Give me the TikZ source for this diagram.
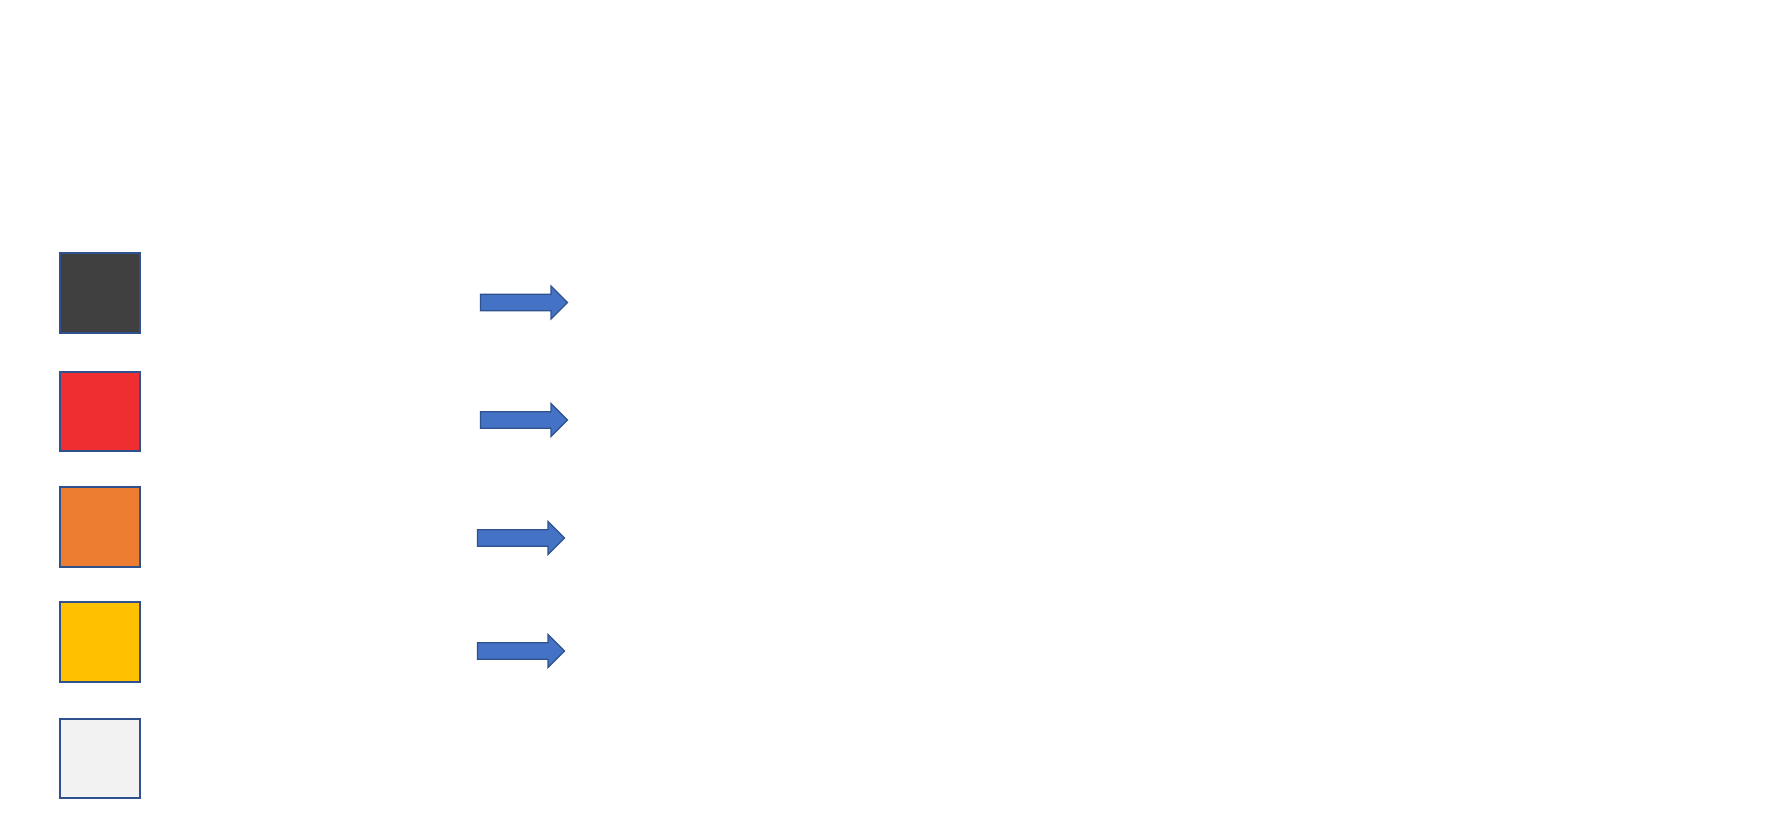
\documentclass[tikz,border=0pt]{standalone}
\definecolor{edgeblue}{HTML}{2F528F}
\definecolor{arrowblue}{HTML}{4472C4}
\definecolor{cdark}{HTML}{404040}
\definecolor{cred}{HTML}{EE2E31}
\definecolor{corange}{HTML}{ED7D31}
\definecolor{cyellow}{HTML}{FFC000}
\definecolor{clight}{HTML}{F2F2F2}
\tikzset{
  swatch/.style={draw=edgeblue, line width=2pt, minimum width=79.5pt, minimum height=79.5pt, inner sep=0pt},
  blockarrow/.style={draw=edgeblue, fill=arrowblue, line width=1.2pt, line join=miter}
}
\begin{document}
\begin{tikzpicture}[x=1pt,y=-1pt]
\useasboundingbox (0,0) rectangle (1766,813);
\fill[white] (0,0) rectangle (1766,813);
\node[swatch, fill=cdark]   (s1) at (100,292.8) {};
\node[swatch, fill=cred]    (s2) at (100,411.3) {};
\node[swatch, fill=corange] (s3) at (100,526.8) {};
\node[swatch, fill=cyellow] (s4) at (100,641.8) {};
\node[swatch, fill=clight]  (s5) at (100,758.3) {};
% block arrows
\draw[blockarrow] (480.5,294.3) -- (551,294.3) -- (551,286) -- (567.5,302.5) -- (551,319) -- (551,310.7) -- (480.5,310.7) -- cycle;
\draw[blockarrow] (480.5,411.8) -- (551,411.8) -- (551,403.5) -- (567.5,420) -- (551,436.5) -- (551,428.2) -- (480.5,428.2) -- cycle;
\draw[blockarrow] (477.5,529.8) -- (548,529.8) -- (548,521.5) -- (564.5,538) -- (548,554.5) -- (548,546.2) -- (477.5,546.2) -- cycle;
\draw[blockarrow] (477.5,642.8) -- (548,642.8) -- (548,634.5) -- (564.5,651) -- (548,667.5) -- (548,659.2) -- (477.5,659.2) -- cycle;
\end{tikzpicture}
\end{document}
